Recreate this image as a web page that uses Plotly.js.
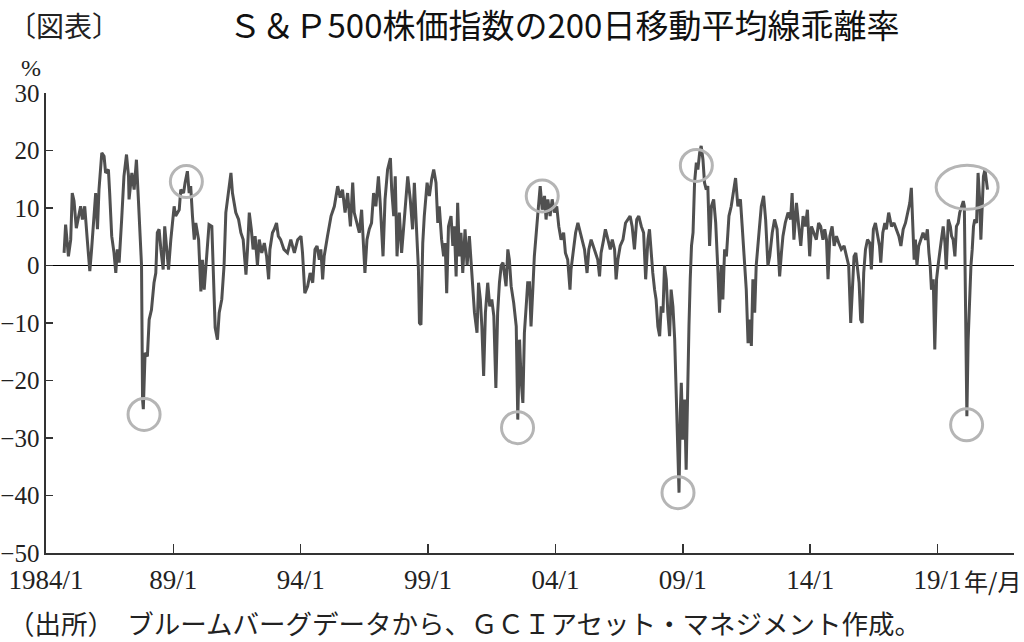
<!DOCTYPE html>
<html><head><meta charset="utf-8">
<script src="https://cdn.plot.ly/plotly-3.0.1.min.js"></script>
<style>html,body{margin:0;padding:0;background:#fff;} #chart{width:1024px;height:642px;}</style>
</head><body><div id="chart"></div>
<script>
// S&P500 deviation from 200-day moving average (%)
const years = [
1984.71,1984.77,1984.88,1984.97,1985.03,1985.10,1985.19,1985.30,1985.36,1985.43,1985.52,1985.62,1985.72,1985.79,1985.89,1985.95,
1986.02,1986.08,1986.19,1986.28,1986.34,1986.45,1986.50,1986.58,1986.67,1986.74,1986.80,1986.87,1986.97,
1987.06,1987.16,1987.24,1987.26,1987.37,1987.46,1987.55,1987.63,1987.69,1987.75,1987.79,1987.82,1987.89,1987.98,
1988.05,1988.14,1988.24,1988.31,1988.37,1988.44,1988.51,1988.60,1988.66,1988.74,1988.81,1988.90,
1989.03,1989.09,1989.23,1989.29,1989.40,1989.46,1989.55,1989.62,1989.68,1989.75,1989.82,1989.88,1989.99,
1990.08,1990.14,1990.21,1990.27,1990.34,1990.40,1990.51,1990.56,1990.64,1990.73,1990.80,1990.90,1990.99,
1991.06,1991.16,1991.26,1991.32,1991.39,1991.45,1991.56,1991.65,1991.74,1991.85,1991.91,1991.98,
1992.06,1992.13,1992.21,1992.30,1992.37,1992.47,1992.57,1992.66,1992.74,1992.79,1992.89,1992.96,
1993.05,1993.12,1993.21,1993.34,1993.48,1993.61,1993.75,1993.88,
1994.01,1994.07,1994.16,1994.27,1994.37,1994.47,1994.56,1994.64,1994.73,1994.79,1994.86,1994.92,
1995.05,1995.19,1995.32,1995.45,1995.55,1995.64,1995.74,1995.84,1995.95,
1996.04,1996.10,1996.21,1996.30,1996.39,1996.47,1996.52,1996.60,1996.69,1996.78,1996.86,1996.95,
1997.05,1997.12,1997.18,1997.23,1997.31,1997.41,1997.52,1997.57,1997.65,1997.71,1997.78,1997.87,1997.96,
1998.04,1998.13,1998.20,1998.30,1998.39,1998.46,1998.55,1998.62,1998.66,1998.72,1998.79,1998.85,1998.96,
1999.05,1999.14,1999.22,1999.31,1999.38,1999.44,1999.53,1999.61,1999.67,1999.73,1999.80,1999.90,1999.97,
2000.03,2000.10,2000.16,2000.23,2000.29,2000.36,2000.45,2000.53,2000.62,2000.69,2000.75,2000.82,2000.92,2000.98,
2001.05,2001.11,2001.18,2001.25,2001.34,2001.42,2001.50,2001.58,2001.66,2001.73,2001.80,2001.87,2001.94,
2002.00,2002.06,2002.13,2002.19,2002.26,2002.36,2002.46,2002.52,2002.59,2002.65,2002.72,2002.78,2002.85,2002.91,2002.98,
2003.04,2003.11,2003.17,2003.30,2003.40,2003.48,2003.57,2003.63,2003.70,2003.79,2003.87,2003.96,
2004.05,2004.13,2004.22,2004.32,2004.39,2004.48,2004.57,2004.61,2004.68,2004.79,2004.88,2004.97,
2005.05,2005.14,2005.24,2005.31,2005.40,2005.49,2005.57,2005.66,2005.73,2005.79,2005.89,2005.96,
2006.06,2006.15,2006.23,2006.32,2006.38,2006.45,2006.54,2006.65,2006.75,2006.84,2006.93,
2007.01,2007.10,2007.19,2007.27,2007.37,2007.46,2007.54,2007.63,2007.69,2007.76,2007.82,2007.89,2007.95,
2008.02,2008.09,2008.15,2008.22,2008.28,2008.35,2008.41,2008.48,2008.54,2008.61,2008.68,2008.74,2008.81,2008.85,2008.90,2008.94,
2009.00,2009.07,2009.13,2009.19,2009.24,2009.29,2009.34,2009.40,2009.46,2009.53,2009.59,2009.66,2009.72,2009.79,2009.85,2009.92,2009.98,
2010.05,2010.12,2010.21,2010.29,2010.38,2010.44,2010.51,2010.57,2010.64,2010.71,2010.81,2010.90,
2011.00,2011.07,2011.16,2011.26,2011.33,2011.43,2011.49,2011.56,2011.62,2011.69,2011.75,2011.82,2011.88,2011.99,
2012.08,2012.17,2012.25,2012.34,2012.41,2012.51,2012.60,2012.70,2012.78,2012.80,2012.87,2012.93,
2013.02,2013.13,2013.23,2013.29,2013.36,2013.46,2013.55,2013.63,2013.72,2013.81,2013.89,2013.98,
2014.05,2014.15,2014.24,2014.33,2014.41,2014.50,2014.57,2014.64,2014.70,2014.77,2014.86,2014.94,
2015.03,2015.12,2015.22,2015.33,2015.42,2015.51,2015.59,2015.66,2015.72,2015.79,2015.85,2015.92,2015.98,
2016.04,2016.10,2016.17,2016.25,2016.34,2016.40,2016.48,2016.56,2016.64,2016.72,2016.77,2016.85,2016.93,2016.99,
2017.08,2017.19,2017.29,2017.39,2017.48,2017.56,2017.65,2017.74,2017.84,2017.91,2017.97,
2018.03,2018.08,2018.13,2018.19,2018.26,2018.34,2018.43,2018.53,2018.60,2018.66,2018.71,2018.76,2018.83,2018.89,2018.96,
2019.02,2019.09,2019.15,2019.22,2019.29,2019.34,2019.42,2019.50,2019.55,2019.61,2019.68,2019.74,2019.81,2019.87,2019.94,
2020.01,2020.05,2020.07,2020.10,2020.15,2020.20,2020.25,2020.31,2020.36,2020.41,2020.46,2020.53,2020.59,2020.65,2020.70,2020.75,2020.80,2020.86,2020.91,2020.96
];
const deviation = [
2.2,7.1,1.6,4.5,12.6,11.2,6.5,9.2,10.3,8.0,10.3,4.5,-1.0,2.8,10.3,12.6,
6.3,13.2,19.6,19.0,16.1,16.7,12.6,5.1,2.2,-1.3,2.8,0.5,8.0,
15.5,19.3,15.5,11.5,16.1,13.2,18.4,11.2,6.3,0.0,-23.3,-25.0,-15.2,-15.8,
-9.4,-7.7,-3.0,-1.3,5.7,6.3,2.8,-0.7,6.8,2.8,-0.7,4.5,
10.3,8.6,9.7,13.2,12.6,14.4,16.4,12.6,13.8,8.6,4.5,7.4,4.5,
-4.5,1.0,-4.2,0.0,4.5,7.1,6.8,-1.3,-10.8,-12.9,-8.2,-5.9,0.0,
9.2,12.6,16.1,12.6,10.9,9.2,8.0,5.7,4.5,-1.6,2.8,9.2,
6.3,2.8,5.1,0.0,4.5,2.2,3.9,1.6,-2.4,2.8,5.7,6.3,
7.4,5.1,4.5,2.8,2.2,4.5,2.2,4.5,
5.1,2.2,-4.8,-3.6,-1.3,-3.0,2.8,3.4,1.0,2.8,-2.4,1.6,
5.1,8.6,10.3,13.8,11.8,13.2,9.2,12.6,6.8,
14.4,9.2,7.4,5.7,9.7,3.9,-1.3,4.5,6.3,7.4,12.6,10.3,
15.5,10.9,6.8,1.6,11.5,16.7,18.7,13.2,8.6,15.5,1.6,9.2,2.2,
6.3,12.1,15.5,11.5,6.3,14.4,4.5,-0.7,-10.0,-10.3,3.9,8.6,14.4,
12.1,15.0,16.7,14.4,7.4,10.3,4.5,1.6,3.9,-4.8,6.8,8.6,3.4,
6.8,-1.9,10.9,1.6,5.7,-1.3,6.3,0.0,5.1,0.0,-3.0,-8.2,-11.7,-3.0,
-5.9,-10.6,-19.2,-8.2,-3.0,-7.1,-5.9,-8.8,-21.3,-8.2,-3.0,0.0,0.5,
-1.9,-3.6,2.8,1.0,-3.6,-6.5,-10.6,-26.8,-12.9,-19.8,-23.9,-11.7,-7.1,-3.0,-3.0,
-10.6,-4.2,1.6,8.6,13.8,9.7,12.1,8.0,11.5,8.6,11.5,9.2,
10.3,6.8,4.5,5.7,2.2,1.0,-4.2,-0.7,1.6,5.7,7.4,5.7,
4.5,2.8,-1.3,2.8,4.5,3.4,2.2,1.0,-1.9,2.2,4.5,6.3,
4.5,2.8,4.5,2.8,-2.4,1.0,3.4,4.5,7.4,8.0,8.6,
6.8,2.8,8.0,8.6,6.8,5.7,-2.4,4.5,6.3,1.6,-1.3,-4.2,-5.9,
-10.6,-12.3,-7.1,-8.2,0.0,-2.4,-8.2,-12.3,-4.2,-7.1,-12.9,-21.6,-30.3,-39.5,-25.6,-20.4,
-30.3,-23.3,-35.5,-19.8,-10.6,-2.4,3.4,5.7,14.4,17.9,16.7,19.6,20.8,18.4,14.4,13.2,13.8,
3.4,10.3,11.5,7.4,-1.3,-8.2,0.0,-5.9,2.8,1.6,8.6,10.3,
13.2,15.2,10.3,11.5,6.8,0.5,-4.2,-13.5,-9.4,-14.0,-2.4,-8.2,0.0,5.7,
10.3,12.1,8.0,0.0,1.6,5.7,8.0,6.3,-0.7,-1.9,2.2,5.1,
7.4,9.2,8.0,12.6,4.5,10.9,6.8,3.4,8.6,6.8,9.7,1.6,
6.8,5.7,4.5,7.4,6.8,4.5,6.3,4.5,-2.4,5.1,6.8,3.4,
5.1,3.9,2.8,3.4,1.6,0.0,-10.0,-3.0,1.6,2.2,-0.7,-3.0,-9.4,
-10.0,-1.3,2.8,4.5,3.9,-0.7,6.3,7.4,5.1,3.4,0.5,5.7,7.4,6.3,
9.2,6.8,7.4,6.3,5.1,3.4,6.3,7.4,9.2,10.9,13.5,
6.8,1.0,4.5,0.0,3.4,4.5,5.7,4.5,6.3,2.2,0.0,-4.2,-2.4,-14.6,-2.4,
0.0,2.8,4.5,6.8,3.9,-0.7,8.0,6.8,5.1,4.5,1.6,6.8,7.4,9.2,10.3,
11.2,10.3,0.0,-7.1,-26.2,-12.9,-5.9,0.0,2.8,6.8,8.0,7.4,16.1,11.5,4.5,10.3,15.5,16.7,14.4,13.2
];
const tickYears = [1984, 1989, 1994, 1999, 2004, 2009, 2014, 2019];
const tickLabels = ['1984/1', '89/1', '94/1', '99/1', '04/1', '09/1', '14/1', '19/1'];
const yTicks = [-50, -40, -30, -20, -10, 0, 10, 20, 30];
// highlighted turning points (circled in the original)
const markYears  = [1987.85, 1989.51, 2002.51, 2003.48, 2008.81, 2009.53, 2020.16, 2020.14];
const markValues = [-25.9, 14.6, -28.2, 12.1, -39.5, 17.4, 13.6, -27.7];

const titleText = 'Ｓ＆Ｐ500株価指数の200日移動平均線乖離率';
const figLabel = '〔図表〕';
const unitLabel = '%';
const xUnitLabel = '年/月';
const sourceText = '（出所）　ブルームバーグデータから、ＧＣＩアセット・マネジメント作成。';

// layout geometry
const W = 1024, H = 642;
const M = {l: 46, r: 10, t: 93, b: 89};
const PW = W - M.l - M.r, PH = H - M.t - M.b;
const px = x => (x - M.l) / PW;
const py = y => (H - M.b - y) / PH;

const serif = 'Liberation Serif, DejaVu Serif, serif';
const cjk = 'Noto Sans CJK JP, sans-serif';
const axisColor = '#333333';

const circleR = [[16,16],[16,16],[16,16],[16,16],[16,16],[16,16],[31,22],[16,16]];

const trace = {
  x: years, y: deviation, type: 'scatter', mode: 'lines',
  line: {color: '#505050', width: 3}, hoverinfo: 'skip', showlegend: false
};

const layout = {
  width: W, height: H,
  margin: {l: M.l, r: M.r, t: M.t, b: M.b, pad: 0},
  paper_bgcolor: '#ffffff', plot_bgcolor: '#ffffff',
  showlegend: false,
  title: {text: titleText, font: {family: cjk, size: 33, color: '#111'},
          x: 564 / W, xanchor: 'center', xref: 'container', y: 1 - 26 / H, yanchor: 'middle', yref: 'container'},
  xaxis: {
    range: [1984, 2022], tickmode: 'array', tickvals: tickYears, ticktext: tickLabels,
    ticks: 'inside', ticklen: 9, tickwidth: 1.5, tickcolor: axisColor,
    showline: true, linecolor: axisColor, linewidth: 1.6, showgrid: false, zeroline: false,
    tickfont: {family: serif, size: 27, color: '#222'}, ticklabelstandoff: 2,
    automargin: false, fixedrange: true
  },
  yaxis: {
    range: [-50, 30], tickmode: 'array', tickvals: yTicks,
    ticks: 'inside', ticklen: 7, tickwidth: 1.5, tickcolor: axisColor,
    showline: true, linecolor: axisColor, linewidth: 1.6, showgrid: false,
    zeroline: true, zerolinecolor: '#000', zerolinewidth: 1.2,
    tickfont: {family: serif, size: 25, color: '#222'}, automargin: false, fixedrange: true
  },
  shapes: markYears.map((x, i) => ({
    type: 'circle', xref: 'x', yref: 'y', xsizemode: 'pixel', ysizemode: 'pixel',
    xanchor: x, yanchor: markValues[i],
    x0: -circleR[i][0], x1: circleR[i][0], y0: -circleR[i][1], y1: circleR[i][1],
    line: {color: '#b5b5b5', width: 3}, layer: 'above'
  })),
  annotations: [
    {text: figLabel, xref: 'paper', yref: 'paper', x: px(6), y: py(25), xanchor: 'left', yanchor: 'middle',
     showarrow: false, font: {family: cjk, size: 28, color: '#222'}},
    {text: unitLabel, xref: 'paper', yref: 'paper', x: px(31), y: py(68), xanchor: 'center', yanchor: 'middle',
     showarrow: false, font: {family: serif, size: 24, color: '#222'}},
    {text: xUnitLabel, xref: 'paper', yref: 'paper', x: px(962), y: py(580), xanchor: 'left', yanchor: 'middle',
     showarrow: false, font: {family: cjk, size: 24, color: '#222'}},
    {text: sourceText, xref: 'paper', yref: 'paper', x: px(6), y: py(622), xanchor: 'left', yanchor: 'middle',
     showarrow: false, font: {family: cjk, size: 26.5, color: '#222'}}
  ]
};

Plotly.newPlot('chart', [trace], layout, {staticPlot: true, displayModeBar: false});
</script>
</body></html>
